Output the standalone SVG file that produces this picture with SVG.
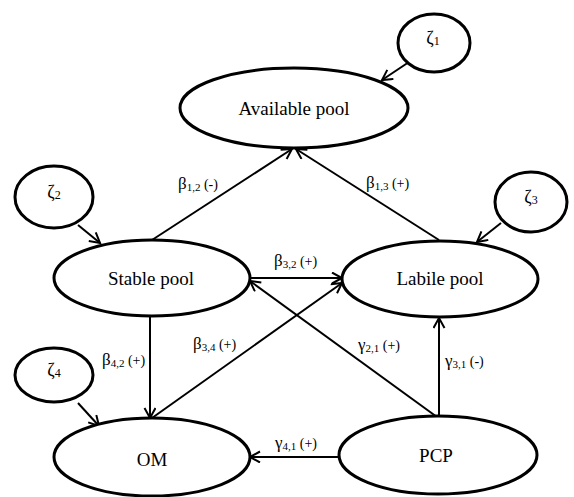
<svg xmlns="http://www.w3.org/2000/svg" width="574" height="497" viewBox="0 0 574 497">
  <defs>
    <marker id="arrow" markerUnits="userSpaceOnUse" markerWidth="14" markerHeight="14" refX="11" refY="6" orient="auto">
      <path d="M1,0.5 L11,6 L1,11.5" fill="none" stroke="#000" stroke-width="2"/>
    </marker>
    <style>
      .node { fill: #fff; stroke: #000; stroke-width: 3; }
      .err { fill: #fff; stroke: #000; stroke-width: 3; }
      .edge { stroke: #000; stroke-width: 2; fill: none; marker-end: url(#arrow); }
      .lbl { font-family: "Liberation Serif", "Times New Roman", serif; font-size: 19px; fill: #000; text-anchor: middle; }
      .coef { font-family: "Liberation Serif", "Times New Roman", serif; font-size: 17px; fill: #000; }
      .sub { font-size: 11px; }
      .zsub { font-size: 12px; }
      .sign { font-size: 14px; }
      .zeta { font-family: "Liberation Serif", "Times New Roman", serif; font-size: 18px; fill: #000; text-anchor: middle; }
    </style>
  </defs>
  <rect width="574" height="497" fill="#fff"/>

  <!-- connectors -->
  <g id="connectors">
    <line class="edge" x1="409" y1="62" x2="382" y2="80"/>
    <line class="edge" x1="78" y1="225" x2="100" y2="243"/>
    <line class="edge" x1="501" y1="223" x2="477" y2="242"/>
    <line class="edge" x1="78" y1="403" x2="99" y2="426"/>
    <line class="edge" x1="152" y1="240" x2="292" y2="149"/>
    <line class="edge" x1="439" y1="240" x2="296" y2="149"/>
    <line class="edge" x1="250" y1="278" x2="342" y2="278"/>
    <line class="edge" x1="150" y1="317" x2="150" y2="418"/>
    <line class="edge" x1="152" y1="418" x2="342" y2="283"/>
    <line class="edge" x1="437" y1="417" x2="250" y2="281"/>
    <line class="edge" x1="439" y1="416" x2="439" y2="318"/>
    <line class="edge" x1="339" y1="457" x2="250" y2="457"/>

    <text class="coef" x="178" y="189">β<tspan class="sub" dy="2">1,2</tspan><tspan class="sign" dy="-2"> (-)</tspan></text>
    <text class="coef" x="366" y="188">β<tspan class="sub" dy="2">1,3</tspan><tspan class="sign" dy="-2"> (+)</tspan></text>
    <text class="coef" x="274" y="266">β<tspan class="sub" dy="2">3,2</tspan><tspan class="sign" dy="-2"> (+)</tspan></text>
    <text class="coef" x="102" y="365">β<tspan class="sub" dy="2">4,2</tspan><tspan class="sign" dy="-2"> (+)</tspan></text>
    <text class="coef" x="193" y="349">β<tspan class="sub" dy="2">3,4</tspan><tspan class="sign" dy="-2"> (+)</tspan></text>
    <text class="coef" x="358" y="350">γ<tspan class="sub" dy="2">2,1</tspan><tspan class="sign" dy="-2"> (+)</tspan></text>
    <text class="coef" x="445" y="366">γ<tspan class="sub" dy="2">3,1</tspan><tspan class="sign" dy="-2"> (-)</tspan></text>
    <text class="coef" x="275" y="448">γ<tspan class="sub" dy="2">4,1</tspan><tspan class="sign" dy="-2"> (+)</tspan></text>
  </g>

  <!-- latent pools -->
  <g id="available-pool">
    <ellipse class="node" cx="294" cy="108" rx="114" ry="40"/>
    <text class="lbl" x="294" y="115">Available pool</text>
  </g>
  <g id="stable-pool">
    <ellipse class="node" cx="152" cy="278" rx="98" ry="38"/>
    <text class="lbl" x="151" y="285">Stable pool</text>
  </g>
  <g id="labile-pool">
    <ellipse class="node" cx="440" cy="279" rx="98" ry="38"/>
    <text class="lbl" x="440" y="285">Labile pool</text>
  </g>
  <g id="om">
    <ellipse class="node" cx="152" cy="457" rx="98" ry="39"/>
    <text class="lbl" x="152" y="466">OM</text>
  </g>
  <g id="pcp">
    <ellipse class="node" cx="438" cy="455" rx="99" ry="39"/>
    <text class="lbl" x="436" y="462">PCP</text>
  </g>

  <!-- disturbance terms -->
  <g id="zeta1">
    <ellipse class="err" cx="434" cy="43" rx="36" ry="29"/>
    <text class="zeta" x="433" y="44">ζ<tspan class="zsub" dy="1">1</tspan></text>
  </g>
  <g id="zeta2">
    <ellipse class="err" cx="54" cy="197" rx="39" ry="31"/>
    <text class="zeta" x="54" y="198">ζ<tspan class="zsub" dy="1">2</tspan></text>
  </g>
  <g id="zeta3">
    <ellipse class="err" cx="531" cy="202" rx="36" ry="30"/>
    <text class="zeta" x="531" y="203">ζ<tspan class="zsub" dy="1">3</tspan></text>
  </g>
  <g id="zeta4">
    <ellipse class="err" cx="54" cy="375" rx="39" ry="27"/>
    <text class="zeta" x="54" y="376">ζ<tspan class="zsub" dy="1">4</tspan></text>
  </g>
</svg>
